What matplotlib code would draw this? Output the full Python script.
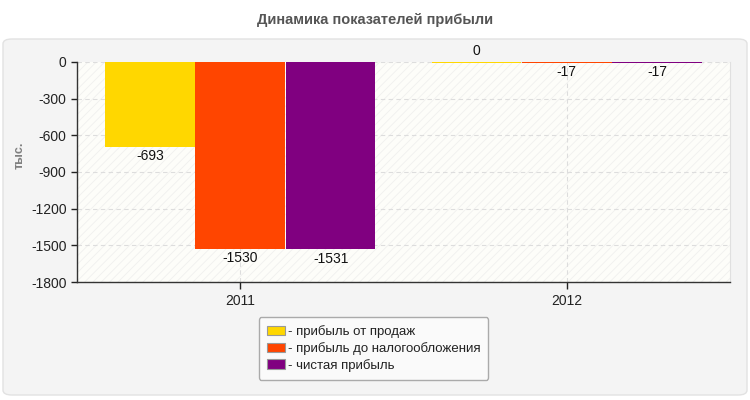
import matplotlib.pyplot as plt
import numpy as np
from matplotlib.patches import FancyBboxPatch, Rectangle

# данные
years = ["2011", "2012"]
series_names = ["прибыль от продаж", "прибыль до налогообложения", "чистая прибыль"]
values_sales = [-693, 0]
values_pretax = [-1530, -17]
values_net = [-1531, -17]
colors = ["#ffd700", "#ff4500", "#800080"]
y_ticks = [0, -300, -600, -900, -1200, -1500, -1800]

plt.rcParams["font.family"] = ["Liberation Sans", "DejaVu Sans"]
plt.rcParams["hatch.linewidth"] = 0.6

fig = plt.figure(figsize=(7.5, 4), dpi=100)
fig.patch.set_facecolor("white")

# серая панель с закруглёнными углами
panel = FancyBboxPatch((3 / 750, 5 / 400), 744 / 750, 356 / 400,
                       boxstyle="round,pad=0,rounding_size=0.012",
                       transform=fig.transFigure, facecolor="#f4f4f4",
                       edgecolor="#e2e2e2", linewidth=1, zorder=-10)
fig.patches.append(panel)

fig.text(0.5, 1 - 20 / 400, "Динамика показателей прибыли", ha="center", va="center",
         fontsize=10.5, fontweight="bold", color="#555555")

ax = fig.add_axes([77 / 750, 1 - 282 / 400, 653 / 750, 220 / 400])
ax.set_facecolor("#fdfdf9")
ax.add_patch(Rectangle((0, 0), 1, 1, transform=ax.transAxes, facecolor="none",
                       edgecolor="#f0f0ee", hatch="////", linewidth=0, zorder=0))

x = np.arange(len(years))
width = 0.277
all_values = [values_sales, values_pretax, values_net]
for i, vals in enumerate(all_values):
    pos = x + (i - 1) * width
    # нулевые и маленькие значения рисуются тонкой полоской
    heights = [v if abs(v) > 20 else -12 for v in vals]
    bottoms = [0 if abs(v) > 20 else 6 for v in vals]
    ax.bar(pos, heights, width=width * 0.99, bottom=bottoms, color=colors[i],
           label=series_names[i], zorder=3, linewidth=0)
    for p, v in zip(pos, vals):
        if v < 0:
            ax.text(p, v - 20 if abs(v) > 20 else -22, str(v), ha="center", va="top",
                    fontsize=10, color="#111111", zorder=4)
        else:
            ax.text(p, 30, str(v), ha="center", va="bottom", fontsize=10,
                    color="#111111", zorder=4, clip_on=False)

ax.set_xlim(-0.5, 1.5)
ax.set_ylim(-1800, 0)
ax.set_yticks(y_ticks)
ax.set_yticklabels([str(t) for t in y_ticks])
ax.set_xticks(x)
ax.set_xticklabels(years)
ax.tick_params(axis="both", labelsize=10, colors="#222222", length=4, width=1)
ax.tick_params(axis="x", length=5, direction="out")
ax.grid(True, linestyle=(0, (4, 3)), color="#dddddd", linewidth=0.8, zorder=1)
ax.set_axisbelow(True)

for s in ["top", "right"]:
    ax.spines[s].set_color("#e0e0e0")
for s in ["left", "bottom"]:
    ax.spines[s].set_color("#333333")
    ax.spines[s].set_linewidth(1)
ax.spines["top"].set_visible(False)

fig.text(20 / 750, 1 - 155 / 400, "тыс.", rotation=90, ha="center", va="center",
         fontsize=9, fontweight="bold", color="#808080")

leg = ax.legend(loc="upper center", bbox_to_anchor=(0.454, -0.13), ncol=1,
                fontsize=9.5, frameon=True, fancybox=True, edgecolor="#aaaaaa",
                facecolor="#fafafa", handlelength=1.4, handleheight=0.75,
                handletextpad=0.2, labelspacing=0.3, borderpad=0.6, framealpha=1)
leg.get_frame().set_linewidth(1)
for h in leg.legend_handles:
    h.set_edgecolor("#999999")
    h.set_linewidth(0.8)
for t in leg.get_texts():
    t.set_text("- " + t.get_text())
    t.set_color("#222222")

fig.savefig("out.png", dpi=100, facecolor=fig.get_facecolor())
